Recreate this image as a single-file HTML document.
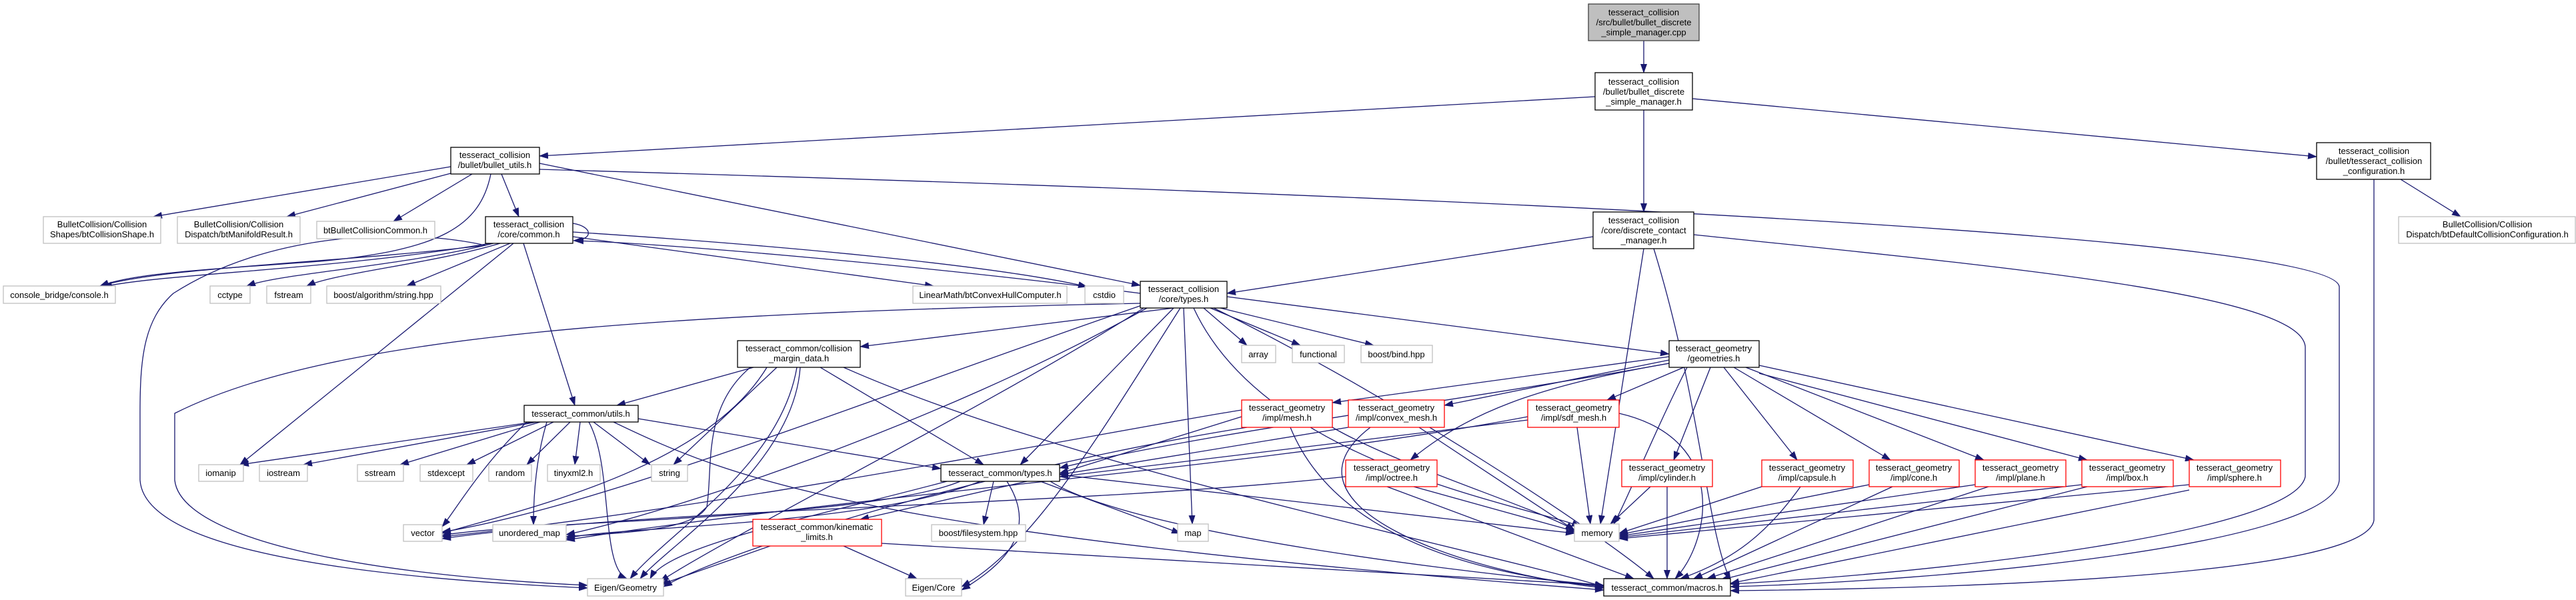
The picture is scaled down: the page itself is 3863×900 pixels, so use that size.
<!DOCTYPE html>
<html><head><meta charset="utf-8"><style>
html,body{margin:0;padding:0;background:#fff;}
svg{display:block}
text{font-family:"Liberation Sans",sans-serif;font-size:13px;fill:#000;text-anchor:middle}
.e{fill:none;stroke:#191970;stroke-width:1.3}
.n{fill:#fff;stroke:#000;stroke-width:1.3}
.g{fill:#fff;stroke:#bfbfbf;stroke-width:1.3}
.r{fill:#fff;stroke:#ff0000;stroke-width:1.3}
</style></head><body>
<svg width="3863" height="900" viewBox="0 0 3863 900" xmlns="http://www.w3.org/2000/svg">
<defs><marker id="a" markerWidth="14" markerHeight="10" refX="13" refY="5" orient="auto" markerUnits="userSpaceOnUse"><polygon points="0,0 14,5 0,10" fill="#191970"/></marker></defs>
<g class="e" marker-end="url(#a)">
<path d="M2465,61 L2465,109"/>
<path d="M2392,145 L809,234"/>
<path d="M2465,165 L2465,318"/>
<path d="M2538,148 L3474,235"/>
<path d="M676,250 L230,325"/>
<path d="M676,260 L430,325"/>
<path d="M708,261 L590,332"/>
<path d="M752,261 L778,325"/>
<path d="M809,245 L1710,428"/>
<path d="M809,254 C2400,300 3500,360 3508,430 L3508,720 C3500,820 2900,872 2595,880"/>
<path d="M2540,352 C3000,400 3450,440 3457,520 L3457,715 C3440,800 2900,860 2595,876"/>
<path d="M3560,269 L3560,780 C3550,860 3000,882 2595,886"/>
<path d="M3600,269 L3690,325"/>
<path d="M736,261 C720,340 660,375 480,392 C300,405 200,410 150,429"/>
<path d="M728,368 C500,395 250,400 150,429"/>
<path d="M735,365 C500,405 250,410 155,430"/>
<path d="M740,365 C600,400 420,410 370,429"/>
<path d="M750,365 C650,395 500,410 460,429"/>
<path d="M765,365 L610,429"/>
<path d="M859,355 L1400,429"/>
<path d="M859,348 C1200,370 1500,400 1630,430"/>
<path d="M859,335 C890,340 890,360 860,361"/>
<path d="M785,365 L862,608"/>
<path d="M770,365 L360,697"/>
<path d="M728,368 C600,340 400,350 260,440 C215,480 210,540 210,620 L210,720 C215,800 400,860 881,882"/>
<path d="M1710,440 C1400,400 1000,365 862,361"/>
<path d="M1710,455 C1000,470 500,500 262,620 L262,720 C270,800 500,860 881,878"/>
<path d="M1760,462 L1290,520"/>
<path d="M1805,462 L1870,518"/>
<path d="M1815,462 L1950,518"/>
<path d="M1830,462 L2060,518"/>
<path d="M1840,445 L2503,531"/>
<path d="M1760,462 L1530,697"/>
<path d="M1775,462 L1788,786"/>
<path d="M1790,462 C1900,700 2300,760 2370,790"/>
<path d="M1820,462 C2100,600 2400,800 2480,868"/>
<path d="M1770,462 C1650,650 1550,820 1442,880"/>
<path d="M1715,462 C1500,600 1100,800 990,872"/>
<path d="M1712,458 C1300,600 900,760 663,798"/>
<path d="M1720,462 C1400,640 1000,770 849,802"/>
<path d="M1130,551 L925,608"/>
<path d="M1165,551 L1010,697"/>
<path d="M1195,551 C1170,700 1000,800 945,868"/>
<path d="M1200,551 C1190,700 1000,820 960,868"/>
<path d="M1150,551 C1060,700 800,760 663,800"/>
<path d="M1230,551 L1475,697"/>
<path d="M1265,551 C1600,700 2200,820 2405,880"/>
<path d="M1140,540 C1050,600 1070,700 1060,760 C1040,800 900,800 849,805"/>
<path d="M800,633 L360,697"/>
<path d="M805,633 L455,697"/>
<path d="M810,633 L600,697"/>
<path d="M830,633 L700,697"/>
<path d="M855,633 L790,697"/>
<path d="M870,633 L862,697"/>
<path d="M890,633 L975,697"/>
<path d="M883,633 C920,700 900,850 940,868"/>
<path d="M957,628 L1411,703"/>
<path d="M920,633 C1100,720 1300,800 2405,885"/>
<path d="M790,633 C720,700 680,770 663,790"/>
<path d="M820,633 C800,700 800,770 800,787"/>
<path d="M1440,722 C1300,780 800,780 663,803"/>
<path d="M1470,722 C1300,790 900,790 849,808"/>
<path d="M1420,722 C1200,780 1000,820 975,868"/>
<path d="M1540,722 L1290,779"/>
<path d="M1490,722 L1475,787"/>
<path d="M1560,722 L1770,800"/>
<path d="M1510,722 C1560,800 1500,850 1442,885"/>
<path d="M1589,712 L2361,800"/>
<path d="M1575,722 C1700,800 2200,860 2405,878"/>
<path d="M1155,819 L990,877"/>
<path d="M1265,819 L1375,868"/>
<path d="M1322,815 L2405,878"/>
<path d="M2503,535 L1998,604"/>
<path d="M2503,540 L2166,608"/>
<path d="M2525,551 L2410,600"/>
<path d="M2503,545 C2300,580 2200,620 2115,690"/>
<path d="M2565,551 L2510,690"/>
<path d="M2585,551 L2695,690"/>
<path d="M2600,551 L2835,690"/>
<path d="M2618,551 L2975,690"/>
<path d="M2638,560 L3130,690"/>
<path d="M2638,548 L3290,690"/>
<path d="M2503,545 C2200,600 1800,650 1589,702"/>
<path d="M2530,551 C2480,650 2440,750 2420,786"/>
<path d="M1862,625 L1589,710"/>
<path d="M1862,615 C1700,640 1100,760 663,805"/>
<path d="M1935,641 C2000,800 2200,860 2405,880"/>
<path d="M1998,641 C2100,700 2300,760 2361,795"/>
<path d="M1870,641 C1500,700 1100,820 995,880"/>
<path d="M2022,641 L1589,712"/>
<path d="M2055,641 C1900,760 2200,860 2405,882"/>
<path d="M2128,641 L2361,795"/>
<path d="M2291,630 L1589,715"/>
<path d="M2291,625 C1900,700 1300,740 849,810"/>
<path d="M2365,641 L2385,786"/>
<path d="M2428,620 C2600,660 2560,820 2512,868"/>
<path d="M2018,715 C1600,760 1000,760 663,808"/>
<path d="M2120,730 L2365,798"/>
<path d="M2080,730 L2450,868"/>
<path d="M2475,730 L2415,786"/>
<path d="M2500,730 L2500,868"/>
<path d="M2642,730 L2428,800"/>
<path d="M2700,730 C2650,800 2600,840 2520,868"/>
<path d="M2803,727 L2428,802"/>
<path d="M2838,730 L2540,868"/>
<path d="M2962,727 L2428,804"/>
<path d="M2982,730 L2560,868"/>
<path d="M3122,727 L2428,806"/>
<path d="M3130,730 L2580,870"/>
<path d="M3283,727 L2428,808"/>
<path d="M3283,735 L2595,875"/>
<path d="M2465,373 L2400,786"/>
<path d="M2389,355 L1840,440"/>
<path d="M2480,373 C2550,600 2560,800 2595,870"/>
</g>
<rect x="2382" y="6" width="166" height="55" fill="#bfbfbf" stroke="#404040" stroke-width="1.3"/>
<text x="2465" y="23">tesseract_collision</text><text x="2465" y="38">/src/bullet/bullet_discrete</text><text x="2465" y="53">_simple_manager.cpp</text>
<rect class="n" x="2392" y="109" width="146" height="56"/>
<text x="2465" y="127">tesseract_collision</text><text x="2465" y="142">/bullet/bullet_discrete</text><text x="2465" y="157">_simple_manager.h</text>
<rect class="n" x="2389" y="318" width="151" height="55"/>
<text x="2465" y="335">tesseract_collision</text><text x="2465" y="350">/core/discrete_contact</text><text x="2465" y="365">_manager.h</text>
<rect class="n" x="3474" y="214" width="171" height="55"/>
<text x="3560" y="231">tesseract_collision</text><text x="3560" y="246">/bullet/tesseract_collision</text><text x="3560" y="261">_configuration.h</text>
<rect class="g" x="3597" y="325" width="265" height="40"/>
<text x="3730" y="341">BulletCollision/Collision</text><text x="3730" y="356">Dispatch/btDefaultCollisionConfiguration.h</text>
<rect class="n" x="676" y="221" width="133" height="40"/>
<text x="742" y="237">tesseract_collision</text><text x="742" y="252">/bullet/bullet_utils.h</text>
<rect class="g" x="65" y="325" width="176" height="40"/>
<text x="153" y="341">BulletCollision/Collision</text><text x="153" y="356">Shapes/btCollisionShape.h</text>
<rect class="g" x="266" y="325" width="184" height="40"/>
<text x="358" y="341">BulletCollision/Collision</text><text x="358" y="356">Dispatch/btManifoldResult.h</text>
<rect class="g" x="475" y="332" width="177" height="26"/><text x="563" y="350">btBulletCollisionCommon.h</text>
<rect class="n" x="728" y="325" width="131" height="40"/>
<text x="793" y="341">tesseract_collision</text><text x="793" y="356">/core/common.h</text>
<rect class="g" x="5" y="429" width="168" height="26"/><text x="89" y="447">console_bridge/console.h</text>
<rect class="g" x="315" y="429" width="60" height="26"/><text x="345" y="447">cctype</text>
<rect class="g" x="400" y="429" width="66" height="26"/><text x="433" y="447">fstream</text>
<rect class="g" x="490" y="429" width="171" height="26"/><text x="575" y="447">boost/algorithm/string.hpp</text>
<rect class="g" x="1369" y="429" width="231" height="26"/><text x="1485" y="447">LinearMath/btConvexHullComputer.h</text>
<rect class="g" x="1627" y="429" width="58" height="26"/><text x="1656" y="447">cstdio</text>
<rect class="n" x="1710" y="422" width="130" height="40"/>
<text x="1775" y="438">tesseract_collision</text><text x="1775" y="453">/core/types.h</text>
<rect class="n" x="1106" y="511" width="184" height="40"/>
<text x="1198" y="527">tesseract_common/collision</text><text x="1198" y="542">_margin_data.h</text>
<rect class="g" x="1862" y="518" width="51" height="26"/><text x="1887" y="536">array</text>
<rect class="g" x="1938" y="518" width="78" height="26"/><text x="1977" y="536">functional</text>
<rect class="g" x="2041" y="518" width="107" height="26"/><text x="2094" y="536">boost/bind.hpp</text>
<rect class="n" x="2503" y="511" width="135" height="40"/>
<text x="2570" y="527">tesseract_geometry</text><text x="2570" y="542">/geometries.h</text>
<rect class="n" x="786" y="608" width="171" height="25"/><text x="871" y="625">tesseract_common/utils.h</text>
<rect class="r" x="1862" y="600" width="136" height="41"/>
<text x="1930" y="616">tesseract_geometry</text><text x="1930" y="631">/impl/mesh.h</text>
<rect class="r" x="2022" y="600" width="144" height="41"/>
<text x="2094" y="616">tesseract_geometry</text><text x="2094" y="631">/impl/convex_mesh.h</text>
<rect class="r" x="2291" y="600" width="137" height="41"/>
<text x="2360" y="616">tesseract_geometry</text><text x="2360" y="631">/impl/sdf_mesh.h</text>
<rect class="g" x="298" y="697" width="67" height="25"/><text x="331" y="714">iomanip</text>
<rect class="g" x="389" y="697" width="72" height="25"/><text x="425" y="714">iostream</text>
<rect class="g" x="536" y="697" width="69" height="25"/><text x="570" y="714">sstream</text>
<rect class="g" x="630" y="697" width="79" height="25"/><text x="669" y="714">stdexcept</text>
<rect class="g" x="733" y="697" width="64" height="25"/><text x="765" y="714">random</text>
<rect class="g" x="821" y="697" width="79" height="25"/><text x="860" y="714">tinyxml2.h</text>
<rect class="g" x="977" y="697" width="54" height="25"/><text x="1004" y="714">string</text>
<rect class="n" x="1411" y="697" width="178" height="25"/><text x="1500" y="714">tesseract_common/types.h</text>
<rect class="r" x="2018" y="690" width="137" height="40"/>
<text x="2087" y="706">tesseract_geometry</text><text x="2087" y="721">/impl/octree.h</text>
<rect class="r" x="2432" y="690" width="136" height="40"/>
<text x="2500" y="706">tesseract_geometry</text><text x="2500" y="721">/impl/cylinder.h</text>
<rect class="r" x="2642" y="690" width="137" height="40"/>
<text x="2710" y="706">tesseract_geometry</text><text x="2710" y="721">/impl/capsule.h</text>
<rect class="r" x="2803" y="690" width="135" height="40"/>
<text x="2870" y="706">tesseract_geometry</text><text x="2870" y="721">/impl/cone.h</text>
<rect class="r" x="2962" y="690" width="136" height="40"/>
<text x="3030" y="706">tesseract_geometry</text><text x="3030" y="721">/impl/plane.h</text>
<rect class="r" x="3122" y="690" width="137" height="40"/>
<text x="3190" y="706">tesseract_geometry</text><text x="3190" y="721">/impl/box.h</text>
<rect class="r" x="3283" y="690" width="137" height="40"/>
<text x="3351" y="706">tesseract_geometry</text><text x="3351" y="721">/impl/sphere.h</text>
<rect class="g" x="605" y="787" width="58" height="25"/><text x="634" y="804">vector</text>
<rect class="g" x="739" y="787" width="110" height="25"/><text x="794" y="804">unordered_map</text>
<rect class="r" x="1129" y="779" width="193" height="40"/>
<text x="1225" y="795">tesseract_common/kinematic</text><text x="1225" y="810">_limits.h</text>
<rect class="g" x="1397" y="787" width="141" height="25"/><text x="1467" y="804">boost/filesystem.hpp</text>
<rect class="g" x="1766" y="786" width="46" height="26"/><text x="1789" y="804">map</text>
<rect class="g" x="2361" y="786" width="67" height="26"/><text x="2395" y="804">memory</text>
<rect class="g" x="881" y="868" width="114" height="26"/><text x="938" y="886">Eigen/Geometry</text>
<rect class="g" x="1358" y="868" width="84" height="26"/><text x="1400" y="886">Eigen/Core</text>
<rect class="n" x="2405" y="868" width="190" height="26"/><text x="2500" y="886">tesseract_common/macros.h</text>
</svg>
</body></html>
